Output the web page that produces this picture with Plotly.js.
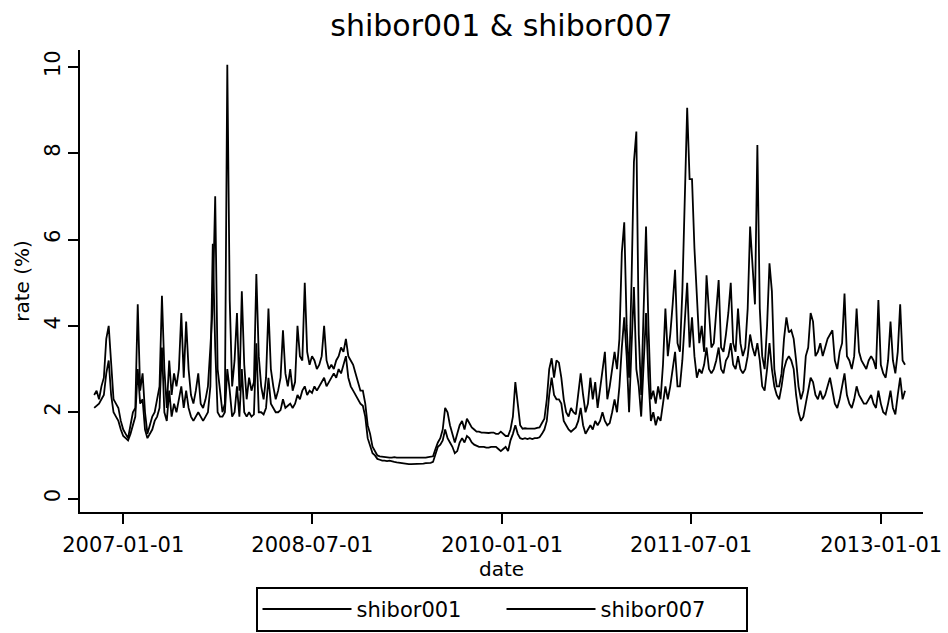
<!DOCTYPE html>
<html>
<head>
<meta charset="utf-8">
<script src="https://cdn.plot.ly/plotly-3.0.1.min.js"></script>
<style>html,body{margin:0;padding:0;background:#fff;}</style>
</head>
<body>
<div id="chart" style="width:948px;height:633px;"></div>
<script>
// Weekly observations starting 2006-10-09
const startDate = '2006-10-09';
const stepDays = 7;

const shibor001 = [
 2.1,2.15,2.2,2.3,2.4,2.9,3.2,2.4,2.0,1.9,1.8,1.6,1.45,
 1.4,1.35,1.5,1.7,1.9,3.0,2.2,2.3,1.6,1.4,1.5,1.6,1.8,
 1.9,2.1,3.5,2.0,1.8,2.5,1.9,2.2,2.0,2.3,2.6,2.1,2.5,
 2.1,1.9,1.8,1.9,2.0,1.9,1.8,1.9,2.0,2.6,5.9,3.5,2.0,
 1.9,1.9,2.0,3.0,2.5,1.9,2.0,2.6,1.9,3.0,2.0,1.9,2.0,
 1.9,1.95,3.6,2.0,2.0,1.95,2.1,2.8,2.2,2.1,2.0,
 2.0,2.05,2.3,2.1,2.15,2.2,2.1,2.2,2.4,2.3,2.5,2.6,2.4,2.5,2.45,2.6,2.5,2.6,2.7,2.8,
 2.6,2.7,2.8,2.9,2.8,3.0,2.9,3.1,3.3,2.8,2.6,2.5,2.4,2.3,2.2,2.15,1.9,1.4,1.2,1.05,
 1.0,0.92,0.9,0.88,0.88,0.87,0.88,0.86,0.85,0.84,0.83,0.82,0.81,0.81,0.80,0.80,0.80,0.81,0.81,0.80,0.81,0.82,0.82,0.83,0.85,
 1.05,1.2,1.25,1.35,1.6,1.4,1.3,1.2,1.05,1.1,1.3,1.4,1.3,1.45,1.4,1.3,1.25,
 1.22,1.2,1.2,1.2,1.18,1.18,1.2,1.2,1.2,1.15,1.1,1.15,1.2,1.1,1.35,1.5,1.7,1.5,1.4,
 1.38,1.4,1.38,1.4,1.38,1.4,1.4,1.42,1.5,1.6,1.8,2.4,2.8,2.4,2.3,2.3,2.2,1.8,1.7,1.6,1.55,1.6,1.65,
 1.8,2.1,1.7,1.5,1.6,1.7,1.6,1.8,1.7,1.8,2.0,1.8,1.7,1.75,2.0,2.3,2.0,2.6,3.5,4.2,3.3,2.0,3.5,4.9,3.0,2.6,
 1.9,3.0,4.3,2.8,1.8,2.0,1.7,1.9,1.8,2.2,2.6,2.3,2.6,3.0,3.4,2.6,2.6,3.2,4.0,5.0,3.5,4.2,3.3,2.8,
 3.0,2.9,3.1,3.5,3.0,2.9,3.0,3.2,3.5,3.0,2.9,3.2,3.3,3.6,3.1,3.0,3.3,3.0,2.9,3.0,
 3.3,3.8,3.5,3.3,3.6,3.2,2.6,2.5,3.0,3.6,3.0,2.6,2.4,2.3,2.6,3.0,3.2,3.3,3.2,3.0,
 2.4,2.0,1.8,1.9,2.2,2.5,2.8,2.7,2.4,2.3,2.5,2.3,2.4,2.6,2.8,2.5,2.2,2.1,2.3,2.6,
 2.9,2.4,2.2,2.1,2.3,2.6,2.4,2.3,2.2,2.2,2.3,2.4,2.2,2.1,2.5,2.2,2.0,1.95,2.2,2.5,
 2.1,1.95,2.4,2.8,2.3,2.5
];

const shibor007 = [
 2.4,2.5,2.3,2.6,2.8,3.7,4.0,3.0,2.3,2.2,2.1,1.8,1.6,
 1.5,1.4,1.7,2.0,2.1,4.5,2.5,2.9,2.0,1.5,1.7,1.9,2.0,
 2.3,2.6,4.7,3.0,2.1,3.2,2.4,2.9,2.6,3.0,4.3,2.8,4.1,
 3.0,2.4,2.2,2.5,2.9,2.2,2.1,2.3,2.6,3.5,4.5,7.0,3.0,
 2.5,2.0,2.2,10.05,4.6,2.6,3.2,4.3,2.5,4.8,3.1,2.3,2.8,
 2.5,2.7,5.2,3.3,2.6,2.3,2.8,4.4,3.0,2.6,2.3,
 2.5,2.8,3.9,2.9,2.6,3.0,2.5,2.7,4.0,3.3,3.2,5.0,3.4,3.1,3.3,3.2,3.0,3.1,3.3,4.0,
 3.2,3.0,3.1,3.0,3.2,3.3,3.5,3.4,3.7,3.3,3.2,3.1,2.9,2.7,2.5,2.5,2.2,1.7,1.5,1.2,
 1.1,1.0,0.98,0.97,0.96,0.96,0.95,0.95,0.96,0.95,0.95,0.94,0.95,0.95,0.94,0.95,0.95,0.95,0.94,0.95,0.95,0.95,0.96,0.97,0.98,
 1.15,1.3,1.4,1.6,2.1,2.0,1.7,1.5,1.3,1.5,1.7,1.8,1.6,1.85,1.75,1.65,1.6,
 1.55,1.55,1.53,1.53,1.52,1.52,1.53,1.53,1.5,1.5,1.55,1.5,1.45,1.45,1.6,1.9,2.7,2.2,1.7,
 1.62,1.63,1.62,1.62,1.63,1.62,1.64,1.65,1.75,1.85,2.3,3.0,3.25,2.8,3.2,3.15,2.8,2.3,2.0,1.9,2.1,2.0,1.95,
 2.5,2.9,2.4,2.0,2.2,2.8,2.3,2.7,2.1,2.5,2.9,3.4,2.3,2.6,3.0,3.4,3.0,3.7,5.7,6.4,4.0,2.8,5.0,7.8,8.5,3.8,
 2.4,4.2,6.3,4.0,2.3,2.5,2.2,2.6,2.3,3.1,4.4,3.3,3.8,4.5,5.3,3.6,3.4,4.8,7.1,9.05,7.4,7.4,5.8,4.6,
 3.6,4.0,3.4,5.17,4.2,3.5,3.6,4.3,5.06,3.5,3.4,3.8,4.3,5.0,3.6,3.4,4.4,3.6,3.3,3.5,
 4.4,6.3,5.3,4.5,8.19,4.4,3.3,3.0,4.0,5.45,4.8,3.0,2.6,2.6,2.9,3.7,4.2,3.85,3.9,3.7,
 3.2,2.6,2.3,2.5,3.3,3.5,4.3,4.1,3.3,3.4,3.6,3.3,3.5,3.7,3.8,3.9,3.2,3.0,3.4,3.6,
 4.75,3.3,3.2,3.0,3.3,4.4,3.4,3.2,3.1,3.0,3.2,3.3,3.2,3.0,4.6,3.1,2.9,2.8,3.2,4.1,
 3.2,2.9,3.4,4.5,3.2,3.1
];

const tickDates = ['2007-01-01','2008-07-01','2010-01-01','2011-07-01','2013-01-01'];
const tickLabels = ['2007-01-01','2008-07-01','2010-01-01','2011-07-01','2013-01-01'];
const yTicks = [0,2,4,6,8,10];
const seriesNames = ['shibor001','shibor007'];

function buildDates(n){
  const out = [];
  const base = new Date(startDate + 'T00:00:00Z');
  for (let i = 0; i < n; i++){
    const d = new Date(base.getTime() + i*stepDays*86400000);
    out.push(d.toISOString().slice(0,10));
  }
  return out;
}
const dates = buildDates(shibor001.length);
const dates7 = buildDates(shibor007.length);

const FONT = 'DejaVu Sans, Arial, sans-serif';

const traces = [
  {x: dates, y: shibor001, name: seriesNames[0], type: 'scatter', mode: 'lines',
   line: {color: '#000', width: 1.8}},
  {x: dates7, y: shibor007, name: seriesNames[1], type: 'scatter', mode: 'lines',
   line: {color: '#000', width: 1.8}}
];

const layout = {
  width: 948, height: 633,
  margin: {l: 80, r: 25, t: 50, b: 121, autoexpand: false},
  paper_bgcolor: '#fff', plot_bgcolor: '#fff',
  font: {family: FONT, color: '#000'},
  title: {text: 'shibor001 & shibor007', font: {family: FONT, size: 30, color: '#000'},
          x: 0.5, xref: 'paper', xanchor: 'center', y: 0.96, yref: 'container', yanchor: 'middle'},
  xaxis: {
    type: 'date', range: ['2006-08-29', '2013-05-02'],
    automargin: false,
    tickmode: 'array', tickvals: tickDates, ticktext: tickLabels,
    ticks: 'outside', ticklen: 10, tickwidth: 2, tickcolor: '#000',
    ticklabelstandoff: 3,
    showline: true, linewidth: 2, linecolor: '#000',
    showgrid: false, zeroline: false,
    tickfont: {family: FONT, size: 21, color: '#000'},
    title: {text: 'date', font: {family: FONT, size: 20, color: '#000'}, standoff: 0}
  },
  yaxis: {
    range: [-0.31, 10.39],
    automargin: false,
    tickmode: 'array', tickvals: yTicks, ticktext: yTicks.map(String),
    tickangle: -90,
    ticks: 'outside', ticklen: 10, tickwidth: 2, tickcolor: '#000',
    showline: true, linewidth: 2, linecolor: '#000',
    showgrid: false, zeroline: false,
    tickfont: {family: FONT, size: 21, color: '#000'},
    title: {text: 'rate (%)', font: {family: FONT, size: 20, color: '#000'}, standoff: 6}
  },
  showlegend: true,
  legend: {
    orientation: 'h', x: 0.5, xanchor: 'center', y: -0.162, yanchor: 'top',
    bordercolor: '#000', borderwidth: 2, bgcolor: '#fff',
    font: {family: FONT, size: 21, color: '#000'},
    itemwidth: 89, entrywidth: 140, entrywidthmode: 'pixels', traceorder: 'normal'
  }
};

Plotly.newPlot('chart', traces, layout, {displayModeBar: false, staticPlot: true});
</script>
</body>
</html>
